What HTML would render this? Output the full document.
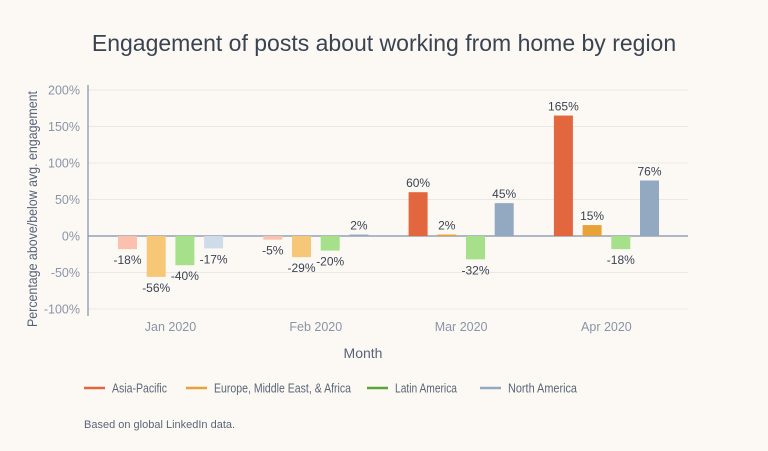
<!DOCTYPE html>
<html><head><meta charset="utf-8"><style>
body{margin:0;background:#fcf9f5;}
svg{display:block;font-family:"Liberation Sans",sans-serif;}
</style></head><body>
<svg id="chart" width="768" height="451" viewBox="0 0 768 451">
<rect width="768" height="451" fill="#fcf9f5"/>
<text x="384" y="51" text-anchor="middle" font-size="23" fill="#3a4350">Engagement of posts about working from home by region</text>
<g id="grid"></g><g id="bars"></g>
<text transform="translate(37,209) rotate(-90)" text-anchor="middle" font-size="13.5" textLength="236" lengthAdjust="spacingAndGlyphs" fill="#56637a">Percentage above/below avg. engagement</text>
<text x="363" y="358" text-anchor="middle" font-size="14" fill="#56637a">Month</text>
<g id="legend"></g>
<text x="84" y="428" font-size="11" fill="#5a6677">Based on global LinkedIn data.</text>
</svg>
<script>
const categories=["Jan 2020","Feb 2020","Mar 2020","Apr 2020"];
const seriesNames=["Asia-Pacific","Europe, Middle East, & Africa","Latin America","North America"];
const asiaPacific=[-18,-5,60,165];
const europe=[-56,-29,2,15];
const latinAmerica=[-40,-20,-32,-18];
const northAmerica=[-17,2,45,76];
const yTicks=[200,150,100,50,0,-50,-100];
const series=[asiaPacific,europe,latinAmerica,northAmerica];
const dark=["#e2673f","#e8a23a","#5aa53a","#93a8c1"];
const barDark=["#e2673f","#e8a23a","#a6e08a","#93a8c1"];
const light=["#fbc0ae","#f6c777","#a6e08a","#cfdbe9"];
const ns="http://www.w3.org/2000/svg";
const y=v=>236-v*0.73;
const x0=170.5,step=145.3,bw=19,bs=28.7;
function mk(t,a,p){const e=document.createElementNS(ns,t);for(const k in a)e.setAttribute(k,a[k]);p.appendChild(e);return e;}
const grid=document.getElementById('grid');
yTicks.forEach(t=>{
 const l=mk('line',{x1:88,x2:688,y1:y(t),y2:y(t),stroke:t===0?'#8090a8':'#ebe8e3','stroke-width':t===0?1.2:1},grid);
 
 
 const tx=mk('text',{x:80,y:y(t)+4.5,'text-anchor':'end','font-size':12.5,fill:'#8a94a6'},grid);
 tx.textContent=t+'%';
 
 
});
const ax=mk('line',{x1:88,x2:88,y1:85,y2:316,stroke:'#8090a8','stroke-width':1.2},grid);


const bars=document.getElementById('bars');
categories.forEach((c,i)=>{
 const cx=x0+i*step;
 const lab=mk('text',{x:cx,y:331,'text-anchor':'middle','font-size':12.5,fill:'#8a94a6'},bars);
 lab.textContent=c;
 
 
 series.forEach((s,j)=>{
  const v=s[i];const bx=cx-52.5+j*bs;
  const top=Math.min(y(v),y(0)),h=Math.abs(y(v)-y(0));
  const r=mk('rect',{x:bx,y:top,width:bw,height:Math.max(h,1.5),fill:v<0?light[j]:barDark[j]},bars);
  
  
  const t=mk('text',{x:bx+bw/2,y:v<0?y(v)+15:y(v)-5,'text-anchor':'middle','font-size':12,fill:'#3a4350'},bars);
  t.textContent=v+'%';
  
  
 });
});
const leg=document.getElementById('legend');
const lx=[84,186,367,480];
const lw=[55,137,62,69];
seriesNames.forEach((n,j)=>{
 const g=mk('g',{},leg);
 
 
 mk('line',{x1:lx[j],x2:lx[j]+21,y1:388,y2:388,stroke:dark[j],'stroke-width':2.5},g);
 const t=mk('text',{x:lx[j]+28,y:392.5,'font-size':13,fill:'#5a6677',textLength:lw[j],lengthAdjust:'spacingAndGlyphs'},g);
 t.textContent=n;
});
</script>
</body></html>
